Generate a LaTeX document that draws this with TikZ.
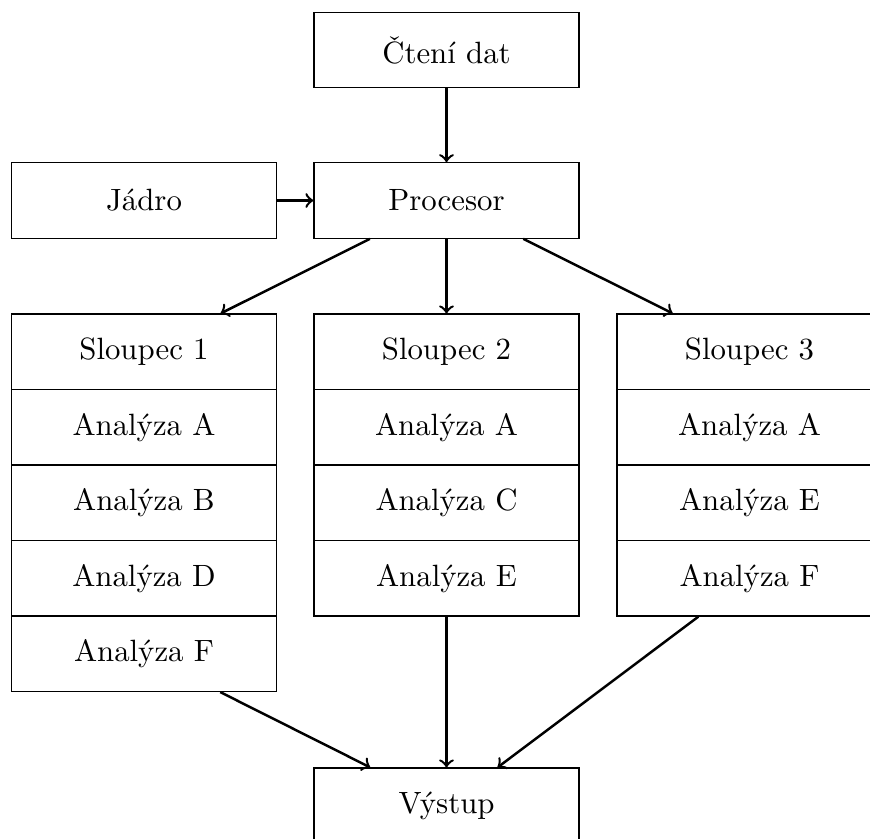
\documentclass[tikz,border=0pt]{standalone}
\usetikzlibrary{arrows}
\begin{document}
\begin{tikzpicture}[x=0.3247pt,y=-0.3247pt,
  box/.style={draw,rectangle,minimum width=86.05pt,minimum height=24.5pt,inner sep=0pt,font=\normalsize},
  conn/.style={->,thick}]
\useasboundingbox (0,0) rectangle (870,838);
\node[box] (cteni) at (446.5,50) {Čtení dat};
\node[box] (jadro) at (144,200.5) {Jádro};
\node[box] (proc) at (446.5,200.5) {Procesor};
% column 1
\node[box] (s1) at (144,351.75) {Sloupec 1};
\node[box] (s1a) at (144,427.25) {Analýza A};
\node[box] (s1b) at (144,502.75) {Analýza B};
\node[box] (s1d) at (144,578.25) {Analýza D};
\node[box] (s1f) at (144,653.75) {Analýza F};
% column 2
\node[box] (s2) at (446.5,351.75) {Sloupec 2};
\node[box] (s2a) at (446.5,427.25) {Analýza A};
\node[box] (s2c) at (446.5,502.75) {Analýza C};
\node[box] (s2e) at (446.5,578.25) {Analýza E};
% column 3
\node[box] (s3) at (749.5,351.75) {Sloupec 3};
\node[box] (s3a) at (749.5,427.25) {Analýza A};
\node[box] (s3e) at (749.5,502.75) {Analýza E};
\node[box] (s3f) at (749.5,578.25) {Analýza F};
% output
\node[box] (vystup) at (446.5,805.75) {Výstup};
% connectors
\draw[conn] (cteni) -- (proc);
\draw[conn] (jadro) -- (proc);
\draw[conn] (proc) -- (s1);
\draw[conn] (proc) -- (s2);
\draw[conn] (proc) -- (s3);
\draw[conn] (s1f) -- (vystup);
\draw[conn] (s2e) -- (vystup);
\draw[conn] (s3f) -- (vystup);
\end{tikzpicture}
\end{document}
